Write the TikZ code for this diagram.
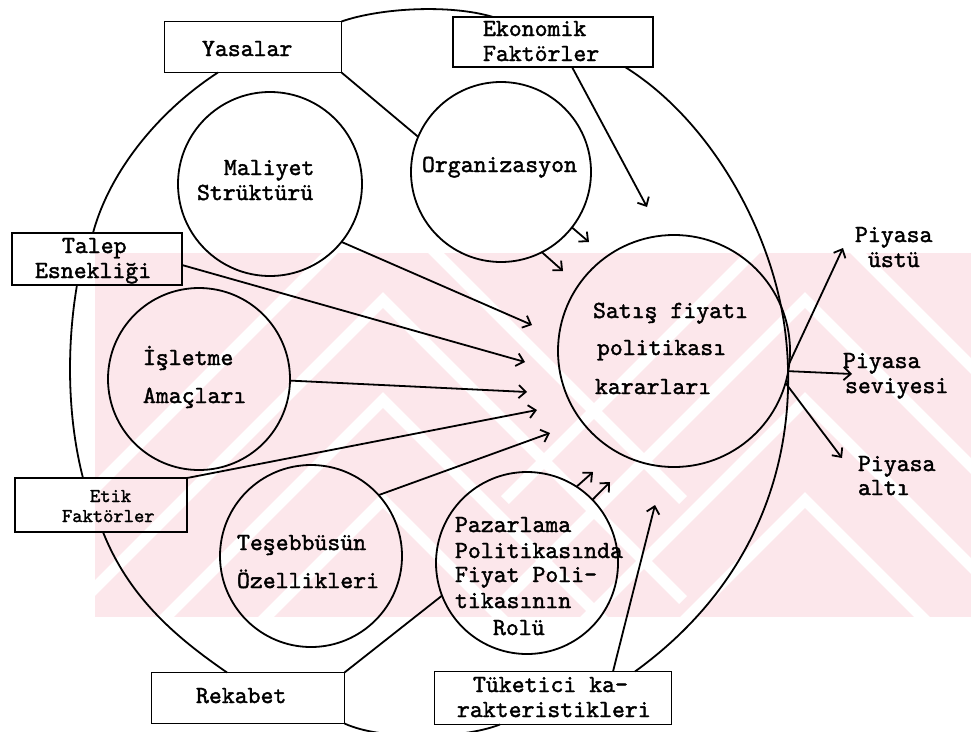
\documentclass[tikz,border=0pt]{standalone}
\usepackage{fontspec}
\newfontfamily\twfont{lmmono10-regular}[Extension=.otf,FakeBold=1.6]
\usetikzlibrary{arrows.meta}
\definecolor{wmpink}{RGB}{252,231,235}
\begin{document}
\begin{tikzpicture}[x=1pt,y=-1pt,
  every node/.style={inner sep=0pt,outer sep=0pt},
  ink/.style={line width=1.8pt,black},
  bubble/.style={circle,draw,ink,minimum size=#1},
  frame/.style={rectangle,draw,ink,minimum width=#1},
  tw/.style={font=\fontsize{24.6}{27}\twfont,anchor=base west},
  twsmall/.style={font=\fontsize{19.6}{22}\twfont,anchor=base west},
  arr/.style={ink,-{Straight Barb[length=7pt,width=13pt,line width=1.8pt]}},
  rim/.style={ink}
]
\useasboundingbox (0,0) rectangle (971,731);

% pale background band with chevrons
\begin{scope}
  \clip (95,253) rectangle (971,617);
  \fill[wmpink] (95,253) rectangle (971,617);
  \foreach \cx in {383,805}{
    \foreach \ay in {200,300,400,500}{
      \draw[white,line width=11pt] (\cx-300,\ay+300) -- (\cx,\ay) -- (\cx+300,\ay+300);
    }
  }
\end{scope}

% circles
\node[bubble=184pt] (mal) at (270,184) {};
\node[bubble=180pt] (org) at (501,172) {};
\node[bubble=232pt] (sat) at (674,351) {};
\node[bubble=182pt] (isl) at (199,379) {};
\node[bubble=182pt] (tes) at (311,556) {};
\node[bubble=182pt] (paz) at (527,563) {};

% boxes
\node[frame=177pt,minimum height=51pt] (yas) at (253,47) {};
\node[frame=200pt,minimum height=50pt] (eko) at (553,42) {};
\node[frame=170pt,minimum height=52pt] (tal) at (97,259) {};
\node[frame=172pt,minimum height=54pt] (etk) at (101,505) {};
\node[frame=193pt,minimum height=51pt] (rek) at (248,698) {};
\node[frame=237pt,minimum height=53pt] (tuk) at (553,698) {};

% texts
\node[tw] (yasT) at (202,56) {Yasalar};
\node[tw] (ekoT1) at (483,36) {Ekonomik};
\node[tw] (ekoT2) at (483,61) {Faktörler};
\node[tw] (malT1) at (224,175) {Maliyet};
\node[tw] (malT2) at (197,200) {Strüktürü};
\node[tw] (orgT) at (422,172) {Organizasyon};
\node[tw] (talT1) at (62,253) {Talep};
\node[tw] (talT2) at (35,278) {Esnekliği};
\node[tw] (islT1) at (143,365) {İşletme};
\node[tw] (islT2) at (143,403) {Amaçları};
\node[twsmall] (etkT1) at (90,502) {Etik};
\node[twsmall] (etkT2) at (62,522) {Faktörler};
\node[tw] (tesT1) at (237,550) {Teşebbüsün};
\node[tw] (tesT2) at (237,588) {Özellikleri};
\node[tw] (satT1) at (593,318) {Satış fiyatı};
\node[tw] (satT2) at (597,355) {politikası};
\node[tw] (satT3) at (595,394) {kararları};
\node[tw] (pazT1) at (455,532) {Pazarlama};
\node[tw] (pazT2) at (455,558) {Politikasında};
\node[tw] (pazT3) at (455,582) {Fiyat Poli-};
\node[tw] (pazT4) at (455,608) {tikasının};
\node[tw] (pazT5) at (493,635) {Rolü};
\node[tw] (rekT) at (196,703) {Rekabet};
\node[tw] (tukT1) at (473,692) {Tüketici ka-};
\node[tw] (tukT2) at (457,717) {rakteristikleri};
\node[tw] (ustT1) at (855,242) {Piyasa};
\node[tw] (ustT2) at (868,267) {üstü};
\node[tw] (sevT1) at (843,368) {Piyasa};
\node[tw] (sevT2) at (845,393) {seviyesi};
\node[tw] (altT1) at (858,471) {Piyasa};
\node[tw] (altT2) at (858,495) {altı};

% arrow tips
\coordinate (tMal) at (532,325);
\coordinate (tTal) at (525,362);
\coordinate (tIsl) at (527,392);
\coordinate (tEtk) at (537,410);
\coordinate (tTes) at (550,433);
\coordinate (tOrgA) at (589,242);
\coordinate (tOrgB) at (563,271);
\coordinate (tPazA) at (593,472);
\coordinate (tPazB) at (610,482);
\coordinate (tTuk) at (655,505);
\coordinate (tEko) at (647,207);
\coordinate (tUst) at (843,248);
\coordinate (tSev) at (852,374);
\coordinate (tAlt) at (842,458);

% outer rim
\draw[rim] (yas.north east) .. controls (380,8) and (450,4) .. ([xshift=-60pt]eko.north);
\draw[rim] ([xshift=72pt]eko.south) .. controls (710,120) and (772,230) .. (785,330)
           .. controls (798,430) and (775,570) .. ([xshift=82pt]tuk.north);
\draw[rim] ([xshift=-35pt]yas.south) .. controls (160,110) and (110,170) .. ([xshift=-4pt]tal.north);
\draw[rim] ([xshift=-20pt]tal.south) .. controls (66,350) and (68,420) .. ([xshift=-18pt]etk.north);
\draw[rim] ([xshift=2pt]etk.south) .. controls (130,600) and (180,640) .. ([xshift=-21pt]rek.north);
\draw[rim] (rek.south east) .. controls (380,740) and (460,740) .. ([xshift=-53pt]tuk.south);

% plain links
\draw[ink] (yas.south east) -- (org.157);
\draw[ink] (paz.201) -- (rek.north east);

% arrows into the decision circle
\draw[arr] (mal.-39) -- (tMal);
\draw[arr] ([yshift=-6pt]tal.east) -- (tTal);
\draw[arr] (isl.-1) -- (tIsl);
\draw[arr] (etk.north east) -- (tEtk);
\draw[arr] (tes.42) -- (tTes);
\draw[arr] (org.-38) -- (tOrgA);
\draw[arr] (org.-63) -- (tOrgB);
\draw[arr] (paz.57) -- (tPazA);
\draw[arr] (paz.44) -- (tPazB);
\draw[arr] ([xshift=60pt]tuk.north) -- (tTuk);
\draw[arr] ([xshift=19pt]eko.south) -- (tEko);

% outcomes
\draw[arr] (sat.-6) -- (tUst);
\draw[arr] (sat.-10) -- (tSev);
\draw[arr] (sat.-16) -- (tAlt);
\end{tikzpicture}
\end{document}
